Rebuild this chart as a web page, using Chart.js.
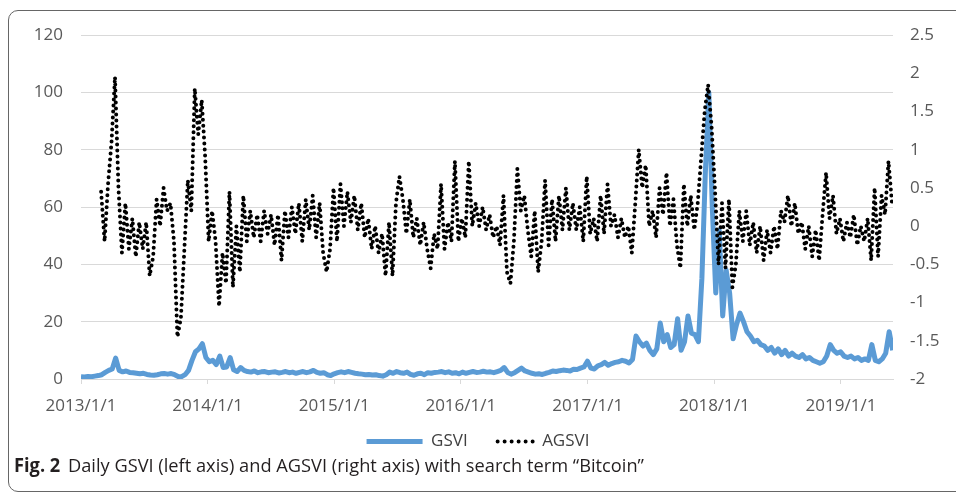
<!DOCTYPE html>
<html>
<head>
<meta charset="utf-8">
<script src="https://cdn.jsdelivr.net/npm/chart.js@4.4.0/dist/chart.umd.min.js"></script>
<style>
  body { margin: 0; background: #fff; width: 956px; height: 496px; overflow: hidden; position: relative; font-family: "Open Sans", sans-serif; }
  #frame { position: absolute; left: 8px; top: 10px; width: 1000px; height: 482px; border: 1.5px solid #666; border-radius: 10px; box-sizing: border-box; }
  #wrap { position: absolute; left: 0; top: 0; width: 956px; height: 470px; }
  #caption { position: absolute; left: 14px; top: 452px; font-size: 19px; color: #231f20; white-space: nowrap; transform-origin: left top; transform: scaleX(0.96); }
  #caption b { font-weight: 700; margin-right: 8px; }
</style>
</head>
<body>
<div id="frame"></div>
<div id="wrap"><canvas id="chart" width="956" height="470"></canvas></div>
<div id="caption"><b>Fig. 2</b>Daily GSVI (left axis) and AGSVI (right axis) with search term “Bitcoin”</div>
<script>
// x values are days counted from 2013/1/1, one reading every 10 days
const stepDays = 10;
const gsviStartDay = 0;
const agsviStartDay = 58;

const xTickDays = [0, 365, 730, 1095, 1461, 1826, 2191];
const xTickLabels = ["2013/1/1", "2014/1/1", "2015/1/1", "2016/1/1", "2017/1/1", "2018/1/1", "2019/1/1"];
const leftTicks = [0, 20, 40, 60, 80, 100, 120];
const rightTicks = [-2, -1.5, -1, -0.5, 0, 0.5, 1, 1.5, 2, 2.5];

// GSVI (left axis)
const gsvi = [
  0.8, 0.7, 0.9, 0.8, 1.0, 1.2, 1.5, 2.3, 3.0, 3.5,
  7.3, 3.0, 2.5, 2.8, 2.3, 2.2, 2.0, 1.8, 2.0, 1.6,
  1.4, 1.3, 1.5, 1.8, 1.9, 1.7, 1.9, 1.5, 0.9, 0.8,
  1.5, 3.0, 6.5, 9.5, 10.5, 12.3, 7.5, 6.0, 6.5, 5.0,
  8.0, 4.0, 4.2, 7.5, 3.2, 2.6, 4.0, 3.0, 2.6, 2.4,
  2.8, 2.2, 2.5, 2.6, 2.2, 2.4, 2.5, 2.1, 2.3, 2.6,
  2.2, 2.4, 2.0, 2.3, 2.6, 2.2, 2.5, 3.0, 2.3, 2.0,
  2.2, 1.5, 1.2, 1.8, 2.2, 2.5, 2.2, 2.6, 2.3, 2.0,
  1.8, 1.7, 1.5, 1.6, 1.4, 1.5, 1.2, 1.0, 1.5, 2.4,
  2.0, 2.6, 2.2, 2.0, 2.4, 1.6, 1.3, 1.8, 2.0, 1.5,
  2.2, 2.0, 2.3, 2.4, 2.6, 2.2, 2.5, 2.0, 2.2, 1.8,
  2.4, 2.0, 2.3, 2.6, 2.3, 2.4, 2.7, 2.4, 2.5, 2.2,
  2.6, 3.0, 4.0, 2.3, 1.7, 2.2, 3.0, 3.8, 2.8, 2.4,
  2.0, 1.7, 1.8, 1.6, 2.0, 2.3, 2.8, 2.6, 2.9, 3.1,
  3.0, 2.8, 3.4, 3.3, 3.8, 4.2, 6.2, 3.8, 3.5, 4.6,
  5.0, 5.8, 4.8, 5.4, 5.8, 6.0, 6.5, 6.2, 5.6, 6.8,
  15.0, 13.0, 11.5, 12.5, 10.0, 8.5, 10.5, 19.5, 13.0, 15.5,
  11.0, 12.0, 21.0, 10.0, 13.0, 22.0, 16.0, 15.5, 13.0, 35.0,
  72.0, 100.0, 60.0, 30.0, 52.0, 22.0, 38.0, 30.0, 14.0, 19.0,
  23.0, 20.0, 16.5, 15.0, 13.0, 13.5, 12.0, 11.5, 10.0, 11.0,
  9.0, 10.5, 8.5, 10.0, 8.0, 9.0, 8.0, 7.5, 8.5, 7.0,
  7.5, 6.5, 6.0, 5.5, 6.0, 8.0, 12.0, 10.0, 9.0, 9.5,
  8.0, 7.5, 8.0, 7.0, 7.5, 6.5, 7.0, 6.5, 12.0, 6.5,
  6.0, 7.0, 9.0, 16.5, 10.0
];

// AGSVI (right axis)
const agsvi = [
  0.45, -0.2, 0.55, 1.1, 1.95, 0.5, -0.35, 0.3, -0.3, 0.1,
  -0.4, 0.05, -0.3, 0.05, -0.65, -0.4, 0.35, 0.0, 0.5, 0.2,
  0.3, -0.2, -1.45, -1.2, -0.3, 0.6, 0.2, 1.8, 1.2, 1.65,
  0.9, -0.2, 0.2, -0.2, -1.05, -0.35, -0.75, 0.45, -0.8, 0.0,
  -0.6, 0.4, -0.2, 0.2, -0.15, 0.15, -0.2, 0.2, -0.1, 0.15,
  -0.25, 0.15, -0.45, 0.2, -0.15, 0.25, -0.1, 0.3, -0.2, 0.35,
  -0.05, 0.4, -0.15, 0.3, -0.35, -0.6, -0.3, 0.5, -0.2, 0.55,
  0.0, 0.45, 0.05, 0.4, -0.05, 0.3, -0.15, 0.1, -0.3, 0.0,
  -0.35, -0.1, -0.65, 0.05, -0.65, 0.3, 0.65, 0.35, -0.1, 0.35,
  -0.15, 0.1, -0.25, 0.05, -0.3, -0.55, -0.1, -0.3, 0.55, -0.3,
  0.05, -0.2, 0.85, -0.2, 0.1, -0.15, 0.85, 0.0, 0.3, 0.0,
  0.25, -0.05, 0.15, -0.15, 0.0, -0.25, 0.4, -0.6, -0.75, -0.2,
  0.75, 0.2, 0.4, -0.05, -0.4, 0.2, -0.6, -0.2, 0.6, -0.25,
  0.35, -0.2, 0.4, -0.05, 0.5, -0.05, 0.3, -0.05, 0.25, -0.2,
  0.65, -0.1, 0.1, -0.2, 0.4, -0.1, 0.55, 0.0, 0.15, -0.15,
  0.1, -0.15, 0.0, -0.35, 0.3, 1.0, 0.5, 0.8, 0.0, 0.2,
  -0.15, 0.5, 0.15, 0.7, 0.0, 0.35, -0.25, -0.55, 0.55, 0.0,
  0.4, -0.05, 0.3, 0.9, 1.5, 1.85, 1.3, 0.45, -0.5, 0.3,
  -0.55, 0.35, -0.8, -0.5, 0.2, -0.2, 0.2, -0.25, 0.05, -0.35,
  0.0, -0.45, -0.05, -0.35, 0.0, -0.3, 0.2, 0.05, 0.4, 0.0,
  0.3, -0.1, 0.05, -0.3, 0.0, -0.4, -0.05, -0.45, 0.15, 0.7,
  0.1, 0.4, -0.1, 0.1, -0.2, 0.05, -0.15, 0.15, -0.25, 0.0,
  -0.2, 0.1, -0.45, 0.5, -0.4, 0.4, 0.15, 0.85, 0.3
];

const tickFont = { family: "'Open Sans', sans-serif", size: 17 };
const tickColor = "#595959";
const gridColor = "#d9d9d9";

function toPoints(values, startDay) {
  return values.map((v, i) => ({ x: startDay + i * stepDays, y: v }));
}

new Chart(document.getElementById("chart"), {
  type: "line",
  data: {
    datasets: [
      {
        label: "GSVI",
        data: toPoints(gsvi, gsviStartDay),
        yAxisID: "y",
        borderColor: "#5b9bd5",
        borderWidth: 5,
        borderJoinStyle: "round",
        pointRadius: 0,
        tension: 0,
        order: 1,
      },
      {
        label: "AGSVI",
        data: toPoints(agsvi, agsviStartDay),
        yAxisID: "y1",
        borderColor: "#000000",
        borderWidth: 4,
        borderDash: [0, 6],
        borderCapStyle: "round",
        pointRadius: 0,
        tension: 0,
        order: 0,
      },
    ],
  },
  options: {
    responsive: false,
    animation: false,
    devicePixelRatio: 1,
    layout: { padding: { top: 35, left: 0, right: 0, bottom: 10 } },
    scales: {
      x: {
        type: "linear",
        min: 0,
        max: 2341,
        afterBuildTicks: (scale) => {
          scale.ticks = xTickDays.map((d) => ({ value: d }));
        },
        afterFit: (scale) => {
          scale.height = 44;
        },
        ticks: {
          font: tickFont,
          color: tickColor,
          padding: 12,
          maxRotation: 0,
          autoSkip: false,
          callback: (value) => xTickLabels[xTickDays.indexOf(value)],
        },
        grid: { drawOnChartArea: false, drawTicks: true, tickLength: 5, color: gridColor },
        border: { display: true, color: gridColor },
      },
      y: {
        position: "left",
        min: 0,
        max: 120,
        afterBuildTicks: (scale) => {
          scale.ticks = leftTicks.map((v) => ({ value: v }));
        },
        afterFit: (scale) => {
          scale.width = 81;
        },
        ticks: { font: tickFont, color: tickColor, padding: 18, callback: (v) => String(v) },
        grid: { color: gridColor, drawTicks: false },
        border: { display: false },
      },
      y1: {
        position: "right",
        min: -2,
        max: 2.5,
        afterBuildTicks: (scale) => {
          scale.ticks = rightTicks.map((v) => ({ value: v }));
        },
        afterFit: (scale) => {
          scale.width = 63;
        },
        ticks: { font: tickFont, color: tickColor, padding: 17, callback: (v) => String(v) },
        grid: { display: false, drawTicks: false },
        border: { display: false },
      },
    },
    plugins: {
      tooltip: { enabled: false },
      legend: {
        position: "bottom",
        labels: {
          usePointStyle: true,
          pointStyleWidth: 56,
          padding: 10,
          font: { family: "'Open Sans', sans-serif", size: 17 },
          color: "#404040",
          generateLabels: () => [
            {
              text: "GSVI",
              datasetIndex: 0,
              strokeStyle: "#5b9bd5",
              fillStyle: "#5b9bd5",
              lineWidth: 5,
              lineCap: "butt",
              pointStyle: "line",
              fontColor: "#404040",
            },
            {
              text: "AGSVI",
              datasetIndex: 1,
              strokeStyle: "#000000",
              fillStyle: "#000000",
              lineWidth: 4,
              lineCap: "round",
              lineDash: [0, 7, 0, 7, 0, 7, 0, 7, 0, 7, 0, 100],
              lineDashOffset: -20,
              pointStyle: "line",
              fontColor: "#404040",
            },
          ],
        },
      },
    },
  },
});
</script>
</body>
</html>
